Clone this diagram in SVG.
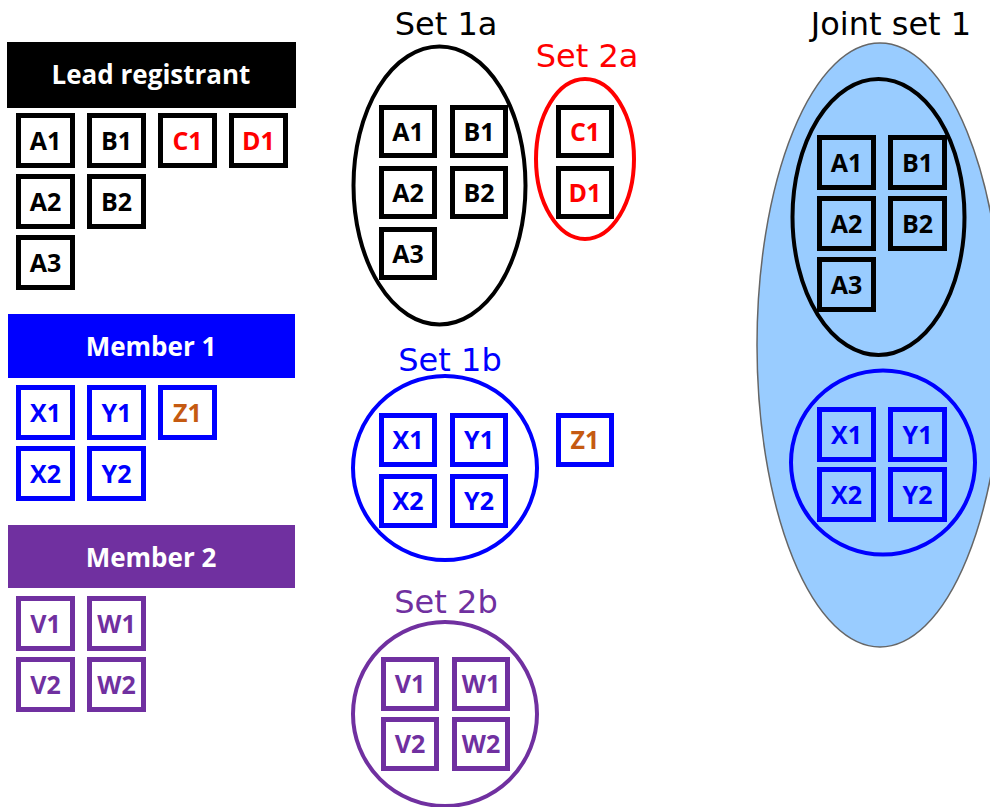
<svg xmlns="http://www.w3.org/2000/svg" width="990" height="807" viewBox="0 0 990 807">
<style>
.bx{fill:#fff;stroke-width:5}
.bj{fill:none;stroke-width:5}
.k{stroke:#000}.b{stroke:#0000FF}.p{stroke:#7030A0}
.t{font-family:"Open Sans","Liberation Sans",sans-serif;font-weight:bold;font-size:25px;text-anchor:middle}
.tk{fill:#000}.tb{fill:#0000FF}.tp{fill:#7030A0}.tr{fill:#FF0000}.to{fill:#C55A11}
.hd{font-family:"Open Sans","Liberation Sans",sans-serif;font-weight:bold;font-size:26px;fill:#fff;text-anchor:middle}
.st{font-family:"DejaVu Sans",Verdana,sans-serif;font-size:32px;text-anchor:middle}
.ring{fill:none;stroke-width:4}
</style>
<rect width="990" height="807" fill="#fff"/>

<g id="joint-set-1">
<ellipse cx="880" cy="345" rx="123" ry="302" fill="#99CCFF" stroke="#666" stroke-width="1.5"/>
<text class="st" x="891" y="35" fill="#000">Joint set 1</text>
<ellipse class="ring" cx="878.5" cy="217" rx="86" ry="138" stroke="#000"/>
<ellipse class="ring" cx="883" cy="462.5" rx="92" ry="92" stroke="#0000FF"/>
<g id="j-A1"><rect class="bj k" x="819.5" y="137.5" width="54" height="50"/><text class="t tk" x="846.5" y="171.5">A1</text></g>
<g id="j-B1"><rect class="bj k" x="890.5" y="137.5" width="54" height="50"/><text class="t tk" x="917.5" y="171.5">B1</text></g>
<g id="j-A2"><rect class="bj k" x="819.5" y="198.5" width="54" height="50"/><text class="t tk" x="846.5" y="232.5">A2</text></g>
<g id="j-B2"><rect class="bj k" x="890.5" y="198.5" width="54" height="50"/><text class="t tk" x="917.5" y="232.5">B2</text></g>
<g id="j-A3"><rect class="bj k" x="819.5" y="259.5" width="54" height="50"/><text class="t tk" x="846.5" y="293.5">A3</text></g>
<g id="j-X1"><rect class="bj b" x="819.5" y="409.5" width="54" height="50"/><text class="t tb" x="846.5" y="443.5">X1</text></g>
<g id="j-Y1"><rect class="bj b" x="890.5" y="409.5" width="54" height="50"/><text class="t tb" x="917.5" y="443.5">Y1</text></g>
<g id="j-X2"><rect class="bj b" x="819.5" y="469.5" width="54" height="50"/><text class="t tb" x="846.5" y="503.5">X2</text></g>
<g id="j-Y2"><rect class="bj b" x="890.5" y="469.5" width="54" height="50"/><text class="t tb" x="917.5" y="503.5">Y2</text></g>
</g>

<g id="lead-registrant">
<rect x="7" y="42" width="289" height="66" fill="#000"/>
<text class="hd" x="151" y="84">Lead registrant</text>
<g id="l-A1"><rect class="bx k" x="18.5" y="115.5" width="54" height="50"/><text class="t tk" x="45.5" y="149.5">A1</text></g>
<g id="l-B1"><rect class="bx k" x="89.5" y="115.5" width="54" height="50"/><text class="t tk" x="116.5" y="149.5">B1</text></g>
<g id="l-C1"><rect class="bx k" x="160.5" y="115.5" width="54" height="50"/><text class="t tr" x="187.5" y="149.5">C1</text></g>
<g id="l-D1"><rect class="bx k" x="231.5" y="115.5" width="54" height="50"/><text class="t tr" x="258.5" y="149.5">D1</text></g>
<g id="l-A2"><rect class="bx k" x="18.5" y="176.5" width="54" height="50"/><text class="t tk" x="45.5" y="210.5">A2</text></g>
<g id="l-B2"><rect class="bx k" x="89.5" y="176.5" width="54" height="50"/><text class="t tk" x="116.5" y="210.5">B2</text></g>
<g id="l-A3"><rect class="bx k" x="18.5" y="237.5" width="54" height="50"/><text class="t tk" x="45.5" y="271.5">A3</text></g>
</g>

<g id="member-1">
<rect x="8" y="314" width="287" height="64" fill="#0000FF"/>
<text class="hd" x="151" y="356">Member 1</text>
<g id="m1-X1"><rect class="bx b" x="18.5" y="387.5" width="54" height="50"/><text class="t tb" x="45.5" y="421.5">X1</text></g>
<g id="m1-Y1"><rect class="bx b" x="89.5" y="387.5" width="54" height="50"/><text class="t tb" x="116.5" y="421.5">Y1</text></g>
<g id="m1-Z1"><rect class="bx b" x="160.5" y="387.5" width="54" height="50"/><text class="t to" x="187.5" y="421.5">Z1</text></g>
<g id="m1-X2"><rect class="bx b" x="18.5" y="448.5" width="54" height="50"/><text class="t tb" x="45.5" y="482.5">X2</text></g>
<g id="m1-Y2"><rect class="bx b" x="89.5" y="448.5" width="54" height="50"/><text class="t tb" x="116.5" y="482.5">Y2</text></g>
</g>

<g id="member-2">
<rect x="8" y="525" width="287" height="63" fill="#7030A0"/>
<text class="hd" x="151" y="567">Member 2</text>
<g id="m2-V1"><rect class="bx p" x="18.5" y="598.5" width="54" height="50"/><text class="t tp" x="45.5" y="632.5">V1</text></g>
<g id="m2-W1"><rect class="bx p" x="89.5" y="598.5" width="54" height="50"/><text class="t tp" x="116.5" y="632.5">W1</text></g>
<g id="m2-V2"><rect class="bx p" x="18.5" y="659.5" width="54" height="50"/><text class="t tp" x="45.5" y="693.5">V2</text></g>
<g id="m2-W2"><rect class="bx p" x="89.5" y="659.5" width="54" height="50"/><text class="t tp" x="116.5" y="693.5">W2</text></g>
</g>

<g id="set-1a">
<text class="st" x="446" y="35" fill="#000">Set 1a</text>
<ellipse class="ring" cx="439.5" cy="185.5" rx="86" ry="139" stroke="#000"/>
<g id="s1a-A1"><rect class="bj k" x="381.5" y="107.5" width="53" height="48"/><text class="t tk" x="408" y="140.5">A1</text></g>
<g id="s1a-B1"><rect class="bj k" x="452.5" y="107.5" width="53" height="48"/><text class="t tk" x="479" y="140.5">B1</text></g>
<g id="s1a-A2"><rect class="bj k" x="381.5" y="168.5" width="53" height="48"/><text class="t tk" x="408" y="201.5">A2</text></g>
<g id="s1a-B2"><rect class="bj k" x="452.5" y="168.5" width="53" height="48"/><text class="t tk" x="479" y="201.5">B2</text></g>
<g id="s1a-A3"><rect class="bj k" x="381.5" y="229.5" width="53" height="48"/><text class="t tk" x="408" y="262.5">A3</text></g>
</g>

<g id="set-2a">
<text class="st" x="587" y="67" fill="#FF0000">Set 2a</text>
<ellipse class="ring" cx="585" cy="159" rx="49" ry="80" stroke="#FF0000"/>
<g id="s2a-C1"><rect class="bj k" x="558.5" y="107.5" width="53" height="48"/><text class="t tr" x="585" y="140.5">C1</text></g>
<g id="s2a-D1"><rect class="bj k" x="558.5" y="168.5" width="53" height="48"/><text class="t tr" x="585" y="201.5">D1</text></g>
</g>

<g id="set-1b">
<text class="st" x="450" y="371" fill="#0000FF">Set 1b</text>
<circle class="ring" cx="445" cy="468" r="92" stroke="#0000FF"/>
<g id="s1b-X1"><rect class="bj b" x="381.5" y="415.5" width="53" height="49"/><text class="t tb" x="408" y="448.5">X1</text></g>
<g id="s1b-Y1"><rect class="bj b" x="452.5" y="415.5" width="53" height="49"/><text class="t tb" x="479" y="448.5">Y1</text></g>
<g id="s1b-X2"><rect class="bj b" x="381.5" y="476.5" width="53" height="49"/><text class="t tb" x="408" y="509.5">X2</text></g>
<g id="s1b-Y2"><rect class="bj b" x="452.5" y="476.5" width="53" height="49"/><text class="t tb" x="479" y="509.5">Y2</text></g>
</g>

<g id="z1-alone"><rect class="bj b" x="558.5" y="415.5" width="53" height="49"/><text class="t to" x="585" y="448.5">Z1</text></g>

<g id="set-2b">
<text class="st" x="446" y="613" fill="#7030A0">Set 2b</text>
<circle class="ring" cx="445" cy="714" r="92" stroke="#7030A0"/>
<g id="s2b-V1"><rect class="bj p" x="383.5" y="659.5" width="53" height="49"/><text class="t tp" x="410" y="692.5">V1</text></g>
<g id="s2b-W1"><rect class="bj p" x="454.5" y="659.5" width="53" height="49"/><text class="t tp" x="481" y="692.5">W1</text></g>
<g id="s2b-V2"><rect class="bj p" x="383.5" y="719.5" width="53" height="49"/><text class="t tp" x="410" y="752.5">V2</text></g>
<g id="s2b-W2"><rect class="bj p" x="454.5" y="719.5" width="53" height="49"/><text class="t tp" x="481" y="752.5">W2</text></g>
</g>

<g id="connectors"/>
</svg>
